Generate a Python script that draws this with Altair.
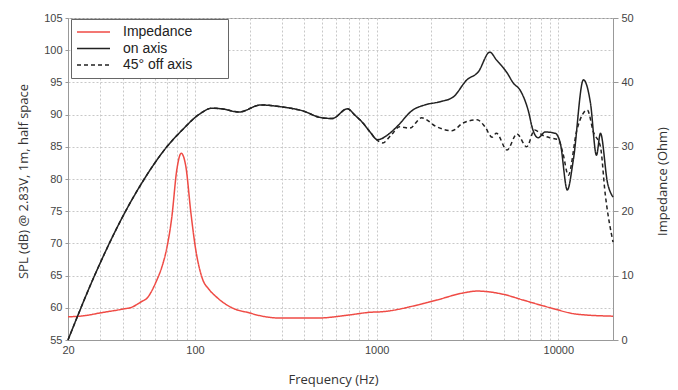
import altair as alt
import pandas as pd

# ---- data ----
on_f = [20, 28, 41.5, 52.6, 70, 85, 105, 124, 140, 175, 230, 300, 390,
        500, 570, 690, 760, 840, 920, 1010, 1180, 1290, 1580, 1840, 2230, 2630, 3140, 3620, 4200,
        4560, 5220, 5650, 6160, 6820, 7250, 7740, 8470, 9610, 10250, 11210, 12100, 13750, 15030,
        16220, 17060, 18660, 20000]
on_db = [55.0, 65.0, 75.0, 80.0, 85.0, 87.6, 90.0, 91.0, 90.9, 90.4,
         91.5, 91.2, 90.6, 89.5, 89.4, 90.9, 89.9, 88.7, 87.3, 86.1, 87.1, 88.1, 90.7, 91.5, 92.0,
         92.7, 95.4, 96.6, 99.7, 98.5, 96.5, 94.9, 93.8, 90.7, 87.6, 86.4, 87.3, 87.1, 85.6, 78.3,
         83.0, 95.4, 91.8, 83.7, 87.1, 79.4, 77.2]

off_f = [20, 28, 41.5, 52.6, 70, 85, 105, 124, 140, 175, 230, 300, 390,
         500, 570, 690, 760, 840, 920, 1010, 1080, 1200, 1340, 1520, 1770, 2140, 2600, 2990, 3570,
         3950, 4320, 4560, 5220, 5920, 6700, 7400, 8200, 9000, 10000, 10600, 11350, 12650, 14450,
         15600, 17060, 18100, 20000]
off_db = [55.0, 65.0, 75.0, 80.0, 85.0, 87.6, 90.0, 91.0, 90.9, 90.4,
          91.5, 91.2, 90.6, 89.5, 89.4, 90.9, 89.9, 88.7, 87.3, 86.0, 85.6, 86.8, 88.1, 87.9, 89.5,
          88.1, 87.5, 88.7, 89.2, 88.1, 86.5, 87.1, 84.5, 87.0, 85.0, 87.6, 86.8, 86.4, 86.1, 84.0,
          80.6, 87.6, 90.7, 87.3, 85.0, 77.8, 70.2]

imp_f = [20, 25, 30, 40, 45, 51, 54, 61, 66, 69, 74.5, 79.5, 84, 89, 95, 101, 109, 120, 131, 160,
         200, 226, 300, 466, 710, 915, 1080, 1660, 2140, 2990, 3570, 4970, 6410, 9040, 12730, 20000]
imp_z = [3.6, 3.8, 4.2, 4.8, 5.1, 6.0, 6.4, 9.0, 11.5, 13.5, 19.0, 26.5, 29.0, 27.0, 19.7, 14.0,
         9.8, 7.8, 6.7, 5.0, 4.2, 3.8, 3.4, 3.4, 3.9, 4.3, 4.4, 5.4, 6.2, 7.3, 7.6, 7.1, 6.2, 5.0,
         4.0, 3.7]

series = ["Impedance", "on axis", "45° off axis"]
colors = ["#ef4b45", "#222222", "#222222"]
dashes = [[1, 0], [1, 0], [4, 3]]

x_grid = [20, 30, 40, 50, 60, 70, 80, 90, 100, 200, 300, 400, 500, 600, 700, 800, 900,
          1000, 2000, 3000, 4000, 5000, 6000, 7000, 8000, 9000, 10000, 20000]
x_labels = [20, 100, 1000, 10000]
spl_ticks = [55, 60, 65, 70, 75, 80, 85, 90, 95, 100, 105]
imp_ticks = [0, 10, 20, 30, 40, 50]

spl_df = pd.concat([
    pd.DataFrame({"f": on_f, "v": on_db, "s": "on axis", "o": range(len(on_f))}),
    pd.DataFrame({"f": off_f, "v": off_db, "s": "45° off axis", "o": range(len(off_f))}),
])
imp_df = pd.DataFrame({"f": imp_f, "v": imp_z, "s": "Impedance", "o": range(len(imp_f))})

label_test = " || ".join(f"datum.value == {v}" for v in x_labels)

x_enc = alt.X(
    "f:Q",
    scale=alt.Scale(type="log", domain=[20, 20000], nice=False),
    axis=alt.Axis(
        values=x_grid, format="d", labelExpr=f"({label_test}) ? datum.label : ''",
        labelFlush=False, labelOverlap=False,
        title="Frequency (Hz)", titleFont="Open Sans", titleFontSize=13, titleFontWeight="normal",
        titleColor="#333", titleX=265, titleY=33, titleBaseline="top",
        labelFont="Liberation Sans", labelFontSize=11, labelColor="#444", labelPadding=4,
        tickSize=0, domainColor="#999", grid=True, gridColor="#c8c8c8",
        gridDash=[2, 2], gridWidth=1,
    ),
)

# invisible blank glyphs widen the legend box like the reference's
pad = "\u2800" * 3
legend_kw = dict(title=None, orient="none", legendX=3, legendY=1,
                 labelExpr=f"datum.label + '{pad}'")
color_enc = alt.Color("s:N", scale=alt.Scale(domain=series, range=colors),
                      legend=alt.Legend(**legend_kw))
dash_enc = alt.StrokeDash("s:N", scale=alt.Scale(domain=series, range=dashes),
                          legend=alt.Legend(**legend_kw))

spl = alt.Chart(spl_df).mark_line(strokeWidth=1.5, interpolate="monotone").encode(
    x=x_enc,
    y=alt.Y("v:Q", scale=alt.Scale(domain=[55, 105], nice=False),
            axis=alt.Axis(values=spl_ticks, title="SPL (dB) @ 2.83V, 1m, half space",
                          titleFont="Open Sans", titleFontSize=13, titleFontWeight="normal",
                          titleColor="#333", titleAngle=270, titleX=-45, titleY=163,
                          titleBaseline="middle", titleAlign="center",
                          labelFont="Liberation Sans", labelFontSize=11, labelColor="#444",
                          tickSize=3, tickColor="#999", labelPadding=3, domainColor="#999",
                          grid=True, gridColor="#c8c8c8", gridDash=[2, 2])),
    color=color_enc,
    strokeDash=dash_enc,
    order="o:Q",
)

imp = alt.Chart(imp_df).mark_line(strokeWidth=1.5, interpolate="monotone").encode(
    x=alt.X("f:Q", scale=alt.Scale(type="log", domain=[20, 20000], nice=False)),
    y=alt.Y("v:Q", scale=alt.Scale(domain=[0, 50], nice=False),
            axis=alt.Axis(orient="right", values=imp_ticks, title="Impedance (Ohm)",
                          titleFont="Open Sans", titleFontSize=13, titleFontWeight="normal",
                          titleColor="#333", titleAngle=270, titleX=49, titleY=163,
                          titleBaseline="middle", titleAlign="center",
                          labelFont="Liberation Sans", labelFontSize=11, labelColor="#444",
                          tickSize=5, tickColor="#999", labelPadding=3, domainColor="#999",
                          grid=False)),
    color=color_enc,
    strokeDash=dash_enc,
    order="o:Q",
)

chart = alt.layer(imp, spl).resolve_scale(y="independent").properties(
    width=545, height=322,
    autosize=alt.AutoSizeParams(type="none"),
    padding={"left": 60, "top": 10, "right": 57, "bottom": 50},
).configure_view(stroke="#999", strokeWidth=1).configure_legend(
    symbolType="stroke", symbolSize=1089, symbolStrokeWidth=1.5,
    labelFont="Liberation Sans", labelFontSize=14, labelColor="#222", labelOffset=12,
    fillColor="white", strokeColor="#666", padding=5, rowPadding=0.5, clipHeight=16,
)

chart.save("out.html", embed_options={"renderer": "svg", "actions": False})
